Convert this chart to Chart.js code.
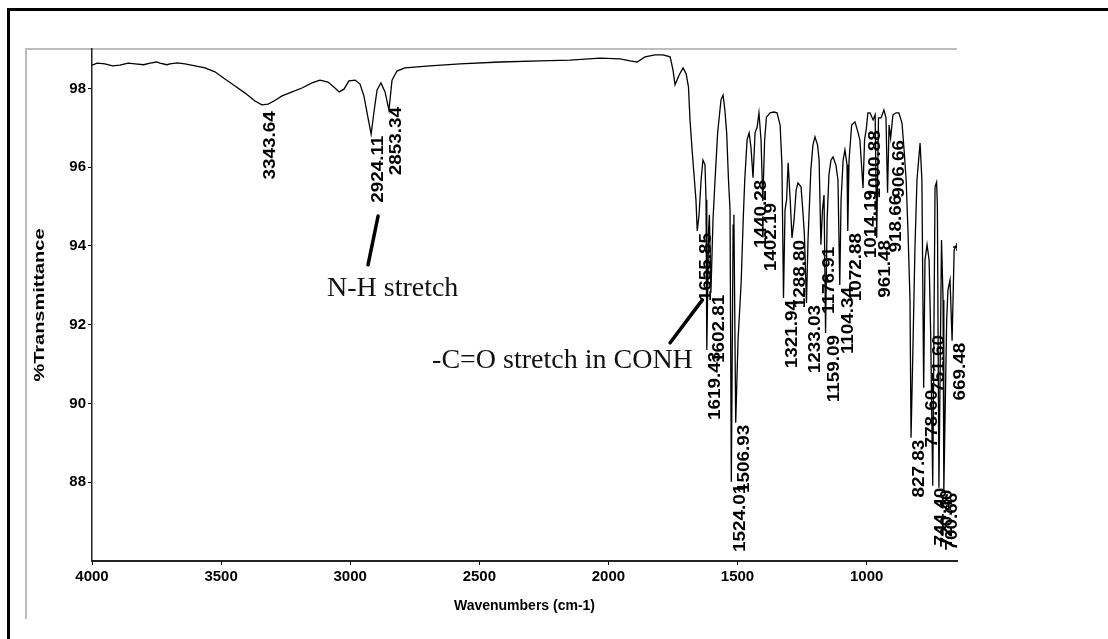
<!DOCTYPE html>
<html>
<head>
<meta charset="utf-8">
<script src="https://cdn.jsdelivr.net/npm/chart.js@4.4.1/dist/chart.umd.min.js"></script>
<style>
html,body{margin:0;padding:0;background:#fff;}
#caixa{position:relative;width:1108px;height:639px;}
</style>
</head>
<body>
<div id="caixa"><canvas id="espectro"></canvas></div>
<script>
// Espectro: numero de onda (cm-1) e %T
const numerosOnda = [4000,3980,3950,3920,3892,3860,3833,3800,3775,3750,3737,3710,3698,3670,3640,3601,3562,3524,3485,3446,
  3407,3369,3342,3318,3295,3264,3225,3187,3148,3117,3086,3059,3043,3024,3005,2981,2962,2947,2931,2919,
  2908,2896,2881,2865,2850,2838,2819,2788,2691,2575,2420,2265,2149,2032,1955,1916,1889,1858,1820,1789,
  1761,1750,1742,1726,1711,1699,1690,1684,1676,1669,1661,1656,1649,1641,1634,1626,1622,1619,1612,1609,
  1603,1595,1587,1577,1564,1556,1549,1542,1535,1529,1524,1517,1514,1507,1498,1486,1478,1472,1463,1455,
  1448,1440,1432,1424,1417,1409,1402,1395,1388,1374,1359,1347,1335,1328,1322,1316,1310,1304,1296,1289,
  1281,1273,1266,1254,1246,1241,1233,1227,1216,1208,1200,1190,1184,1177,1171,1165,1159,1153,1146,1138,
  1130,1119,1111,1104,1099,1091,1084,1076,1073,1068,1058,1045,1033,1026,1014,1008,1001,995,987,975,
  967,961,954,944,933,925,919,913,907,898,886,875,863,855,847,840,832,828,820,813,
  805,793,786,779,774,766,758,752,744,735,729,726,720,710,704,701,690,685,677,669,
  661,654,650];
const transmitancia = [98.59,98.64,98.62,98.57,98.59,98.64,98.62,98.60,98.64,98.67,98.64,98.60,98.62,98.65,98.62,98.57,98.52,98.42,98.24,98.06,
  97.88,97.68,97.58,97.60,97.68,97.81,97.91,98.01,98.14,98.21,98.16,98.01,97.91,97.98,98.19,98.21,98.11,97.81,97.25,96.84,
  97.40,97.96,98.14,97.91,97.45,98.21,98.44,98.52,98.57,98.62,98.67,98.70,98.72,98.77,98.75,98.70,98.67,98.80,98.85,98.85,
  98.80,98.47,98.09,98.34,98.52,98.37,98.04,97.20,96.44,95.85,95.17,94.38,94.79,95.68,96.18,96.06,95.17,91.36,94.41,94.79,
  92.81,94.66,95.68,96.87,97.71,97.83,97.45,96.87,95.68,94.91,88.01,94.53,94.79,89.51,91.61,93.06,94.66,95.68,96.69,96.87,
  96.51,95.73,96.87,97.02,97.38,96.69,95.14,96.69,97.27,97.38,97.40,97.38,97.07,96.06,92.68,94.91,95.17,96.11,95.17,94.20,
  94.66,95.42,95.60,95.50,94.79,94.28,92.55,94.15,95.93,96.56,96.77,96.56,96.18,94.03,94.91,95.29,91.79,94.66,95.80,96.18,
  96.26,96.06,95.68,93.01,95.17,96.18,96.44,96.06,94.38,96.18,97.07,97.15,96.87,96.69,95.47,96.69,96.99,97.38,97.38,97.20,
  97.33,94.20,97.25,97.25,97.45,97.25,95.35,97.07,96.74,97.33,97.38,97.38,97.12,96.44,95.68,94.41,92.63,89.13,91.61,93.90,
  95.68,96.61,95.68,90.40,93.64,94.03,93.64,91.79,87.91,95.50,95.62,95.04,87.86,94.15,92.63,87.78,92.12,92.88,93.14,91.59,
  93.90,94.00,93.97];

const ticksX = [4000,3500,3000,2500,2000,1500,1000];
const ticksY = [88,90,92,94,96,98];

// Rotulos dos picos: texto (o proprio numero de onda) e %T onde o rotulo comeca
const picosTexto = ["3343.64","2924.11","2853.34","1655.85","1619.43","1602.81","1524.01","1506.93","1440.28","1402.19",
  "1321.94","1288.80","1233.03","1176.91","1159.09","1104.34","1072.88","1014.19","1000.88","961.48",
  "918.66","906.66","827.83","778.60","751.60","744.40","720.40","700.66","669.48"];
const picosTopo = [97.42,96.80,97.53,94.33,91.31,92.76,87.96,89.46,95.68,95.09,
  92.63,94.15,92.50,93.98,91.74,92.96,94.33,95.42,96.94,94.15,
  95.30,96.69,89.08,90.35,91.74,87.86,87.81,87.73,91.54];

// Anotacoes e setas (em cm-1 / %T)
const notasTexto = ["N-H stretch", "-C=O stretch in CONH"];
const notasOnda = [3090, 2683];
const notasT = [92.73, 90.90];
const setasOnda1 = [2892, 1636];
const setasT1 = [94.76, 92.63];
const setasOnda2 = [2931, 1761];
const setasT2 = [93.52, 91.54];

const tituloX = "Wavenumbers (cm-1)";
const tituloY = "%Transmittance";

const fonteSans = '"Liberation Sans", Arial, sans-serif';

// Moldura preta e cinza
const moldura = {
  id: 'moldura',
  beforeDraw(chart){
    const c = chart.ctx, a = chart.chartArea;
    c.save();
    c.fillStyle = '#fff';
    c.fillRect(0, 0, chart.width, chart.height);
    c.strokeStyle = '#000';
    c.lineWidth = 3;
    c.beginPath(); c.moveTo(8.5, chart.height); c.lineTo(8.5, 9.5); c.lineTo(chart.width, 9.5); c.stroke();
    c.strokeStyle = '#bdbdbd';
    c.lineWidth = 2;
    c.beginPath(); c.moveTo(26, 619); c.lineTo(26, a.top); c.lineTo(a.right, a.top); c.stroke();
    c.restore();
  }
};

// Rotulos, anotacoes e titulos dos eixos
const textos = {
  id: 'textos',
  afterDatasetsDraw(chart){
    const c = chart.ctx, sx = chart.scales.x, sy = chart.scales.y, a = chart.chartArea;
    c.save();
    c.fillStyle = '#000';

    // rotulos verticais dos picos
    c.font = 'bold 16px ' + fonteSans;
    c.textAlign = 'right';
    c.textBaseline = 'top';
    picosTexto.forEach((t, i) => {
      c.save();
      c.translate(sx.getPixelForValue(parseFloat(t)) + 1, sy.getPixelForValue(picosTopo[i]));
      c.rotate(-Math.PI / 2);
      c.scale(1.18, 1);
      c.fillText(t, 0, 0);
      c.restore();
    });

    // setas
    c.strokeStyle = '#000';
    c.lineWidth = 3.5;
    c.lineCap = 'round';
    setasOnda1.forEach((w, i) => {
      c.beginPath();
      c.moveTo(sx.getPixelForValue(w), sy.getPixelForValue(setasT1[i]));
      c.lineTo(sx.getPixelForValue(setasOnda2[i]), sy.getPixelForValue(setasT2[i]));
      c.stroke();
    });

    // anotacoes
    c.fillStyle = '#111';
    c.font = '28px "Liberation Serif", "Times New Roman", serif';
    c.textAlign = 'left';
    c.textBaseline = 'alphabetic';
    notasTexto.forEach((t, i) => {
      c.fillText(t, sx.getPixelForValue(notasOnda[i]), sy.getPixelForValue(notasT[i]));
    });

    // titulos dos eixos
    c.fillStyle = '#000';
    c.font = 'bold 14px ' + fonteSans;
    c.textAlign = 'center';
    c.textBaseline = 'middle';
    c.fillText(tituloX, (a.left + a.right) / 2, 606);

    c.font = 'bold 15px ' + fonteSans;
    const largura = c.measureText(tituloY).width;
    c.save();
    c.translate(39.5, (a.top + a.bottom) / 2);
    c.rotate(-Math.PI / 2);
    c.scale(153 / largura, 1);
    c.fillText(tituloY, 0, 0);
    c.restore();

    c.restore();
  }
};

const ultimo = numerosOnda.length - 1;

new Chart(document.getElementById('espectro'), {
  type: 'line',
  data: {
    datasets: [{
      data: numerosOnda.map((w, i) => ({x: w, y: transmitancia[i]})),
      borderColor: '#000',
      borderWidth: 1.3,
      tension: 0,
      fill: false,
      pointStyle: 'cross',
      pointRadius: ctx => ctx.dataIndex === ultimo ? 4 : 0,
      pointBorderColor: '#000',
      pointBorderWidth: 1.5
    }]
  },
  options: {
    responsive: true,
    maintainAspectRatio: false,
    animation: false,
    devicePixelRatio: 1,
    layout: {padding: {left: 40, right: 151, top: 49, bottom: 38}},
    plugins: {legend: {display: false}, tooltip: {enabled: false}},
    scales: {
      x: {
        type: 'linear',
        reverse: true,
        min: 650,
        max: 4000,
        afterBuildTicks: s => { s.ticks = ticksX.map(v => ({value: v})); },
        afterFit: s => { s.height = 40; },
        grid: {drawOnChartArea: false, drawTicks: true, tickLength: 4, color: '#000'},
        border: {display: true, color: '#222', width: 2},
        ticks: {
          color: '#000', padding: 3, maxRotation: 0, autoSkip: false,
          font: {family: fonteSans, size: 15, weight: 'bold'},
          callback: v => String(v)
        }
      },
      y: {
        min: 86,
        max: 99,
        afterBuildTicks: s => { s.ticks = ticksY.map(v => ({value: v})); },
        afterFit: s => { s.width = 52; },
        grid: {drawOnChartArea: false, drawTicks: true, tickLength: 4, color: '#000'},
        border: {display: true, color: '#222', width: 1.5},
        ticks: {
          color: '#000', padding: 2, autoSkip: false,
          font: {family: fonteSans, size: 15, weight: 'bold'},
          callback: v => String(v)
        }
      }
    }
  },
  plugins: [moldura, textos]
});
</script>
</body>
</html>
